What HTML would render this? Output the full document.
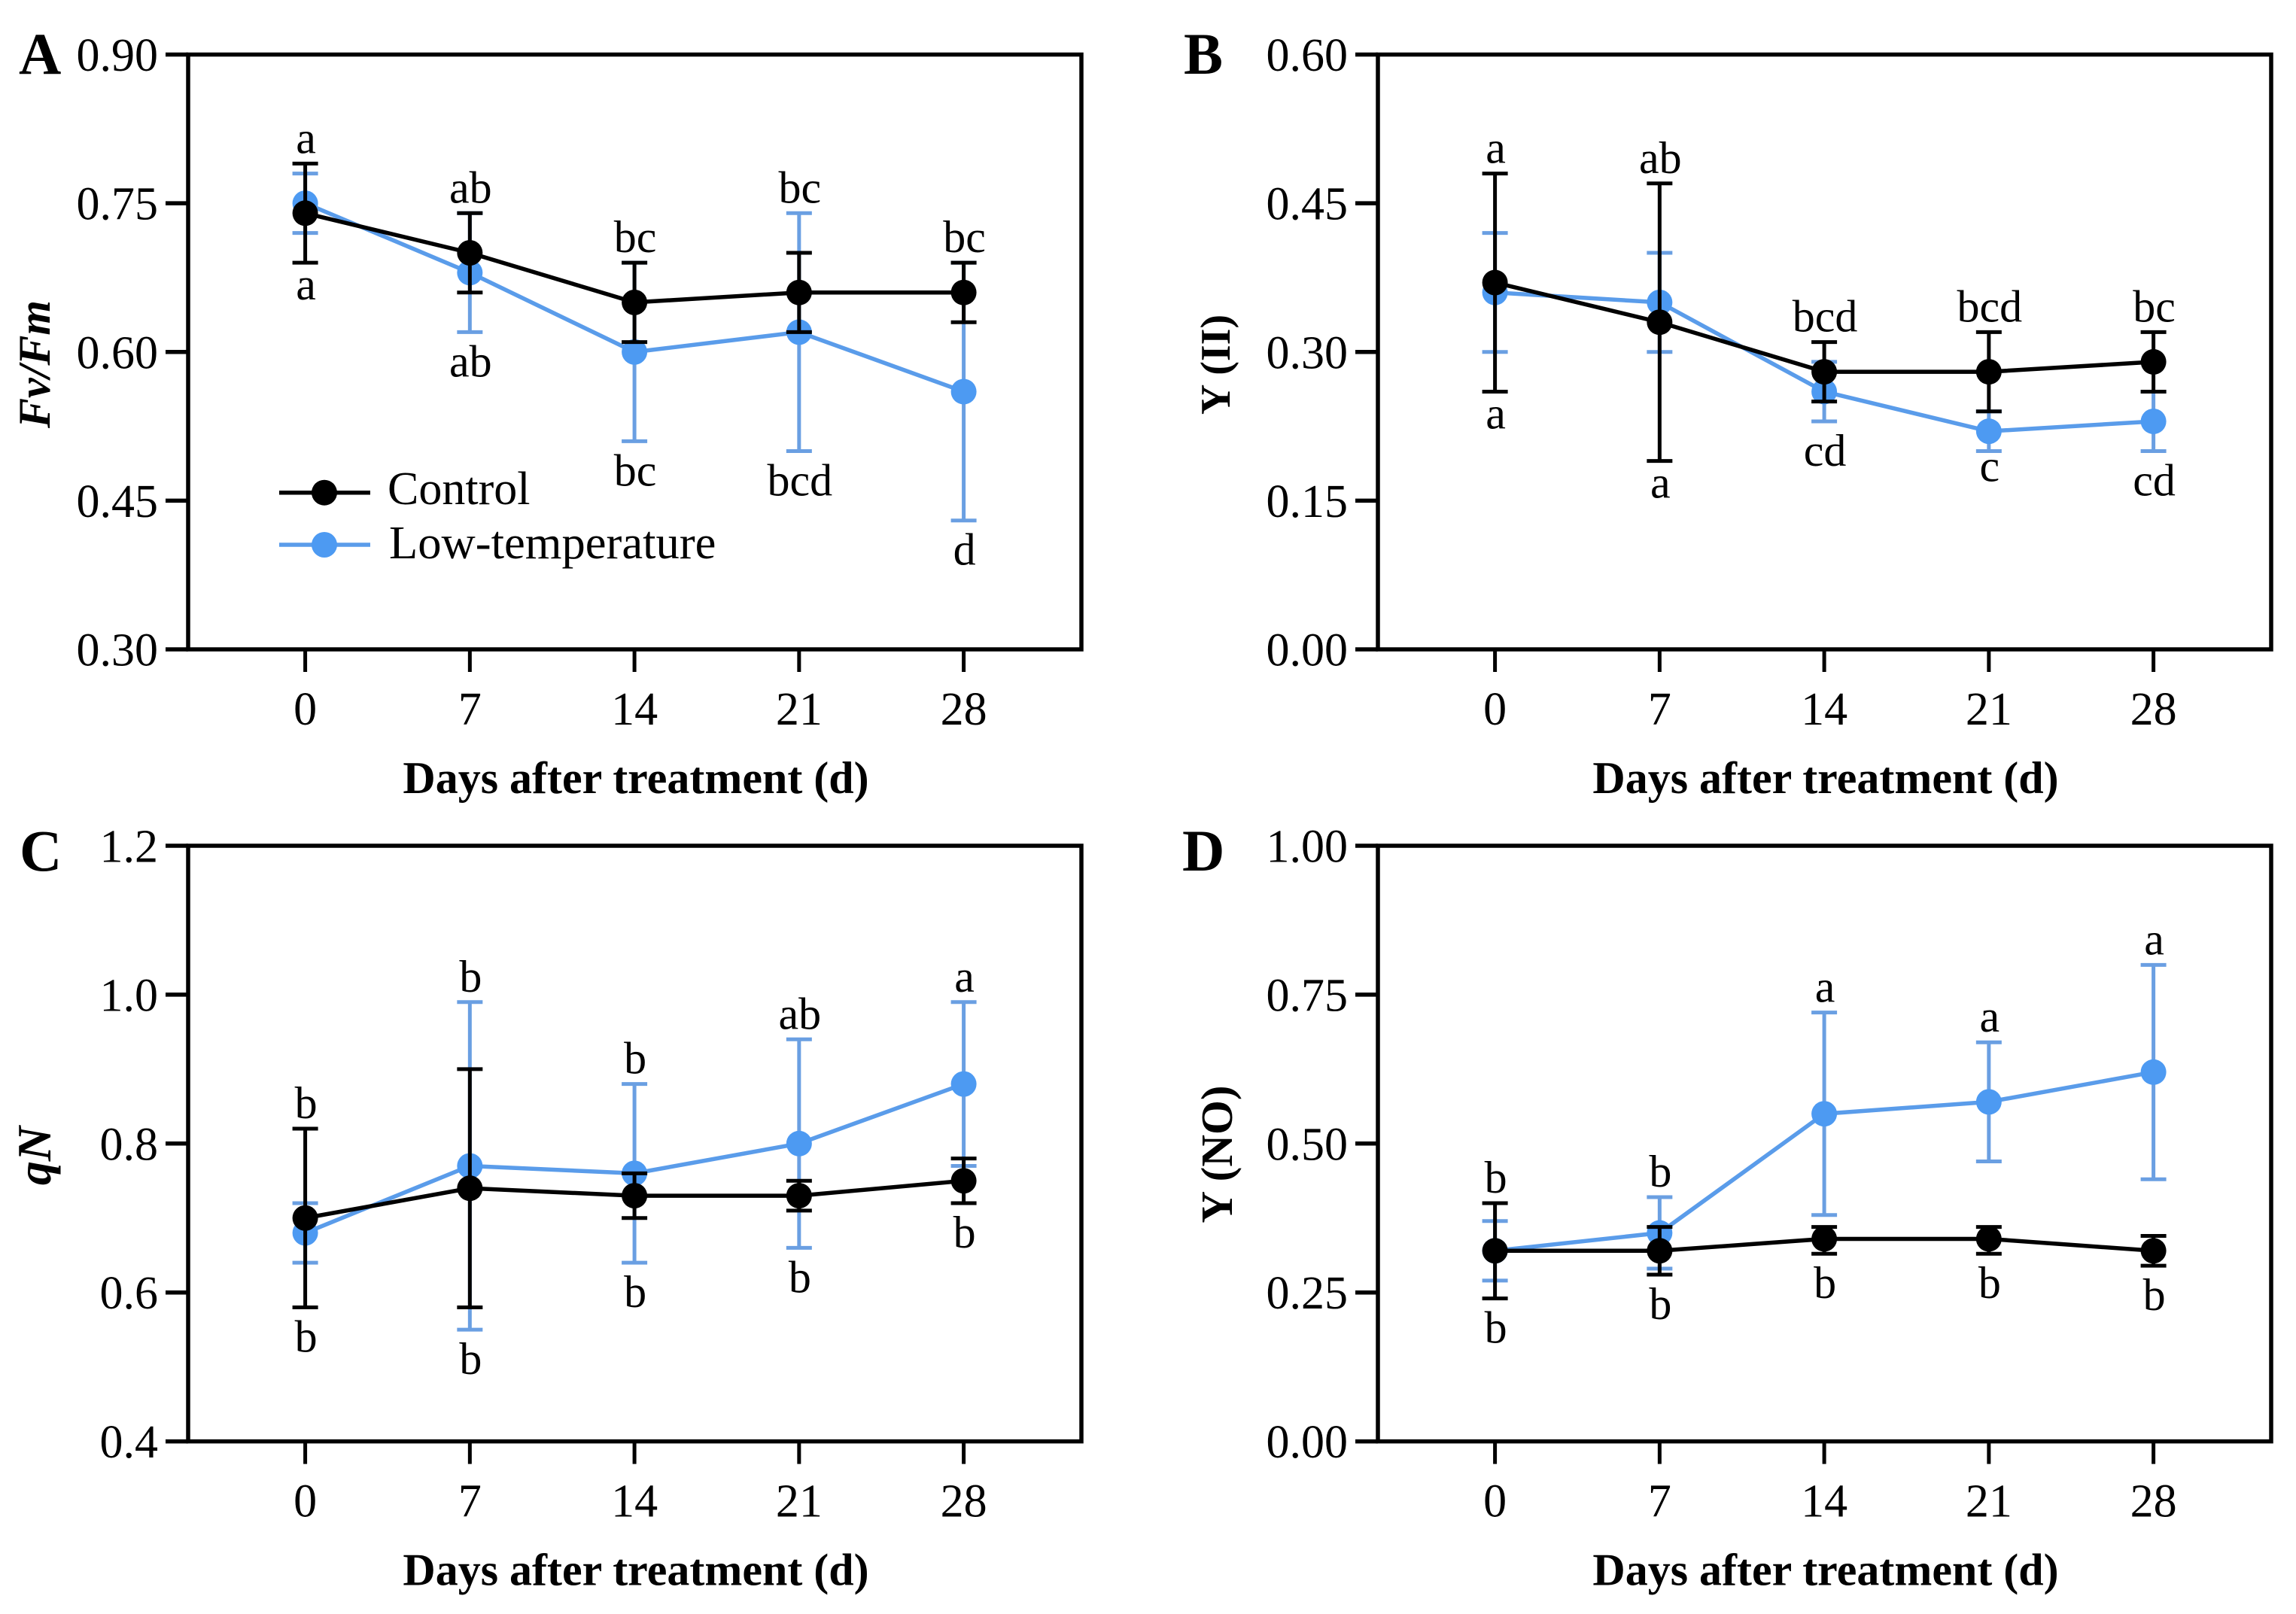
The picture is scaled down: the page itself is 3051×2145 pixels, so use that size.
<!DOCTYPE html>
<html>
<head>
<meta charset="utf-8">
<title>Chlorophyll fluorescence over days after treatment</title>
<style>
html,body{margin:0;padding:0;background:#fff;}
svg{display:block;font-family:"Liberation Serif",serif;fill:#000;}
</style>
</head>
<body>
<svg id="figure" xmlns="http://www.w3.org/2000/svg" width="3051" height="2145" viewBox="0 0 3051 2145">
<rect x="0" y="0" width="3051" height="2145" fill="#fff"/>
</svg>
<script>
const days = [0, 7, 14, 21, 28];

const aTicks = ["0.30", "0.45", "0.60", "0.75", "0.90"];
const aControl = [0.74, 0.70, 0.65, 0.66, 0.66];
const aControlUp = [0.79, 0.74, 0.69, 0.70, 0.69];
const aControlLow = [0.69, 0.66, 0.61, 0.62, 0.63];
const aCold = [0.75, 0.68, 0.60, 0.62, 0.56];
const aColdUp = [0.78, 0.74, 0.69, 0.74, 0.69];
const aColdLow = [0.72, 0.62, 0.51, 0.50, 0.43];
const aLettersUp = ["a", "ab", "bc", "bc", "bc"];
const aLettersLow = ["a", "ab", "bc", "bcd", "d"];

const bTicks = ["0.00", "0.15", "0.30", "0.45", "0.60"];
const bControl = [0.37, 0.33, 0.28, 0.28, 0.29];
const bControlUp = [0.48, 0.47, 0.31, 0.32, 0.32];
const bControlLow = [0.26, 0.19, 0.25, 0.24, 0.26];
const bCold = [0.36, 0.35, 0.26, 0.22, 0.23];
const bColdUp = [0.42, 0.40, 0.29, 0.24, 0.26];
const bColdLow = [0.30, 0.30, 0.23, 0.20, 0.20];
const bLettersUp = ["a", "ab", "bcd", "bcd", "bc"];
const bLettersLow = ["a", "a", "cd", "c", "cd"];

const cTicks = ["0.4", "0.6", "0.8", "1.0", "1.2"];
const cControl = [0.70, 0.74, 0.73, 0.73, 0.75];
const cControlUp = [0.82, 0.90, 0.76, 0.75, 0.78];
const cControlLow = [0.58, 0.58, 0.70, 0.71, 0.72];
const cCold = [0.68, 0.77, 0.76, 0.80, 0.88];
const cColdUp = [0.72, 0.99, 0.88, 0.94, 0.99];
const cColdLow = [0.64, 0.55, 0.64, 0.66, 0.77];
const cLettersUp = ["b", "b", "b", "ab", "a"];
const cLettersLow = ["b", "b", "b", "b", "b"];

const dTicks = ["0.00", "0.25", "0.50", "0.75", "1.00"];
const dControl = [0.32, 0.32, 0.34, 0.34, 0.32];
const dControlUp = [0.40, 0.36, 0.36, 0.36, 0.345];
const dControlLow = [0.24, 0.28, 0.315, 0.315, 0.295];
const dCold = [0.32, 0.35, 0.55, 0.57, 0.62];
const dColdUp = [0.37, 0.41, 0.72, 0.67, 0.80];
const dColdLow = [0.27, 0.29, 0.38, 0.47, 0.44];
const dLettersUp = ["b", "b", "a", "a", "a"];
const dLettersLow = ["b", "b", "b", "b", "b"];

const SVGNS = "http://www.w3.org/2000/svg";
const root = document.getElementById("figure");
const BLACK = "#000000";
const BLUE_LINE = "#5a9cea";
const BLUE_BAR = "#6a9fe2";
const BLUE_DOT = "#4d9af2";

function make(parent, tag, attrs, text) {
  const node = document.createElementNS(SVGNS, tag);
  for (const k in attrs) node.setAttribute(k, attrs[k]);
  if (text !== undefined) node.textContent = text;
  parent.appendChild(node);
  return node;
}

function drawSeries(g, key, color, barColor, dotColor, xs, y, vals, ups, lows) {
  vals.forEach(function (v, i) {
    const stem = make(g, "line", {x1: xs[i], x2: xs[i], y1: y(ups[i]), y2: y(lows[i]), stroke: barColor, "stroke-width": 5});
    
    
    const capUp = make(g, "line", {x1: xs[i] - 17, x2: xs[i] + 17, y1: y(ups[i]), y2: y(ups[i]), stroke: barColor, "stroke-width": 5});
    
    
    const capLow = make(g, "line", {x1: xs[i] - 17, x2: xs[i] + 17, y1: y(lows[i]), y2: y(lows[i]), stroke: barColor, "stroke-width": 5});
    
    
  });
  const pts = vals.map(function (v, i) { return xs[i] + "," + y(v); }).join(" ");
  const path = make(g, "polyline", {points: pts, fill: "none", stroke: color, "stroke-width": 5.5});
  
  
  vals.forEach(function (v, i) {
    const dot = make(g, "circle", {cx: xs[i], cy: y(v), r: 17, fill: dotColor});
    
    
  });
}

function drawPanel(p) {
  const left = p.left, top = p.top, width = 1187, height = p.height;
  const bottom = top + height;
  const min = parseFloat(p.ticks[0]);
  const max = parseFloat(p.ticks[p.ticks.length - 1]);
  const x = function (d) { return left + 155.6 + d * 31.25; };
  const y = function (v) { return bottom - (v - min) / (max - min) * height; };
  const xs = days.map(x);

  const g = make(root, "g", {});
  
  

  const letter = make(g, "text", {x: p.letterX, y: p.letterY, "font-size": 78, "font-weight": "bold"}, p.letter);
  
  

  const frame = make(g, "rect", {x: left, y: top, width: width, height: height, fill: "none", stroke: BLACK, "stroke-width": 5.5});
  
  

  p.ticks.forEach(function (t) {
    const ty = y(parseFloat(t));
    const tick = make(g, "line", {x1: left - 30, x2: left, y1: ty, y2: ty, stroke: BLACK, "stroke-width": 5.5});
    
    
    const label = make(g, "text", {x: left - 40, y: ty + 21.5, "font-size": 62, "text-anchor": "end"}, t);
    
    
  });

  days.forEach(function (d) {
    const tick = make(g, "line", {x1: x(d), x2: x(d), y1: bottom, y2: bottom + 30, stroke: BLACK, "stroke-width": 5});
    
    
    const label = make(g, "text", {x: x(d), y: bottom + 100, "font-size": 62, "text-anchor": "middle"}, String(d));
    
    
  });

  const xTitle = make(g, "text", {x: left + 595, y: bottom + 191, "font-size": 60, "font-weight": "bold", "text-anchor": "middle"}, "Days after treatment (d)");
  
  

  const yTitleAttrs = {transform: "translate(" + p.titleX + "," + p.titleY + ") rotate(-90)", "font-size": p.titleSize, "font-weight": "bold", "text-anchor": "middle"};
  if (p.titleItalic) yTitleAttrs["font-style"] = "italic";
  const yTitle = make(g, "text", yTitleAttrs, p.title);
  
  

  drawSeries(g, "low-temperature", BLUE_LINE, BLUE_BAR, BLUE_DOT, xs, y, p.cold, p.coldUp, p.coldLow);
  drawSeries(g, "control", BLACK, BLACK, BLACK, xs, y, p.control, p.controlUp, p.controlLow);

  days.forEach(function (d, i) {
    const topCap = Math.min(y(p.controlUp[i]), y(p.coldUp[i]));
    const lowCap = Math.max(y(p.controlLow[i]), y(p.coldLow[i]));
    const up = make(g, "text", {x: xs[i] + 1, y: topCap - 14, "font-size": 60, "text-anchor": "middle"}, p.lettersUp[i]);
    
    
    const word = p.lettersLow[i];
    const drop = /[bd]/.test(word) ? 59 : (word === "c" ? 40 : 49);
    const low = make(g, "text", {x: xs[i] + 1, y: lowCap + drop, "font-size": 60, "text-anchor": "middle"}, word);
    
    
  });
}

drawPanel({letter: "A", letterX: 25, letterY: 98, left: 250, top: 72.5, height: 790.5, ticks: aTicks,
  title: "Fv/Fm", titleItalic: true, titleSize: 60, titleX: 66, titleY: 484,
  control: aControl, controlUp: aControlUp, controlLow: aControlLow,
  cold: aCold, coldUp: aColdUp, coldLow: aColdLow, lettersUp: aLettersUp, lettersLow: aLettersLow});
drawPanel({letter: "B", letterX: 1573, letterY: 98, left: 1831, top: 72.5, height: 790.5, ticks: bTicks,
  title: "Y (II)", titleItalic: false, titleSize: 56, titleX: 1634, titleY: 484.5,
  control: bControl, controlUp: bControlUp, controlLow: bControlLow,
  cold: bCold, coldUp: bColdUp, coldLow: bColdLow, lettersUp: bLettersUp, lettersLow: bLettersLow});
drawPanel({letter: "C", letterX: 26, letterY: 1157, left: 250, top: 1124, height: 791.6, ticks: cTicks,
  title: "qN", titleItalic: true, titleSize: 64, titleX: 67, titleY: 1536,
  control: cControl, controlUp: cControlUp, controlLow: cControlLow,
  cold: cCold, coldUp: cColdUp, coldLow: cColdLow, lettersUp: cLettersUp, lettersLow: cLettersLow});
drawPanel({letter: "D", letterX: 1571, letterY: 1157, left: 1831, top: 1124, height: 791.6, ticks: dTicks,
  title: "Y (NO)", titleItalic: false, titleSize: 59, titleX: 1637, titleY: 1534,
  control: dControl, controlUp: dControlUp, controlLow: dControlLow,
  cold: dCold, coldUp: dColdUp, coldLow: dColdLow, lettersUp: dLettersUp, lettersLow: dLettersLow});

const legend = make(root, "g", {});


const legendControlLine = make(legend, "line", {x1: 371, x2: 492, y1: 654.7, y2: 654.7, stroke: BLACK, "stroke-width": 5.5});


const legendControlDot = make(legend, "circle", {cx: 431, cy: 654.7, r: 17, fill: BLACK});


const legendControlText = make(legend, "text", {x: 515, y: 670, "font-size": 62}, "Control");


const legendColdLine = make(legend, "line", {x1: 371, x2: 492, y1: 724, y2: 724, stroke: BLUE_LINE, "stroke-width": 5.5});


const legendColdDot = make(legend, "circle", {cx: 431, cy: 724, r: 17, fill: BLUE_DOT});


const legendColdText = make(legend, "text", {x: 517, y: 742, "font-size": 62.6}, "Low-temperature");


</script>
</body>
</html>
